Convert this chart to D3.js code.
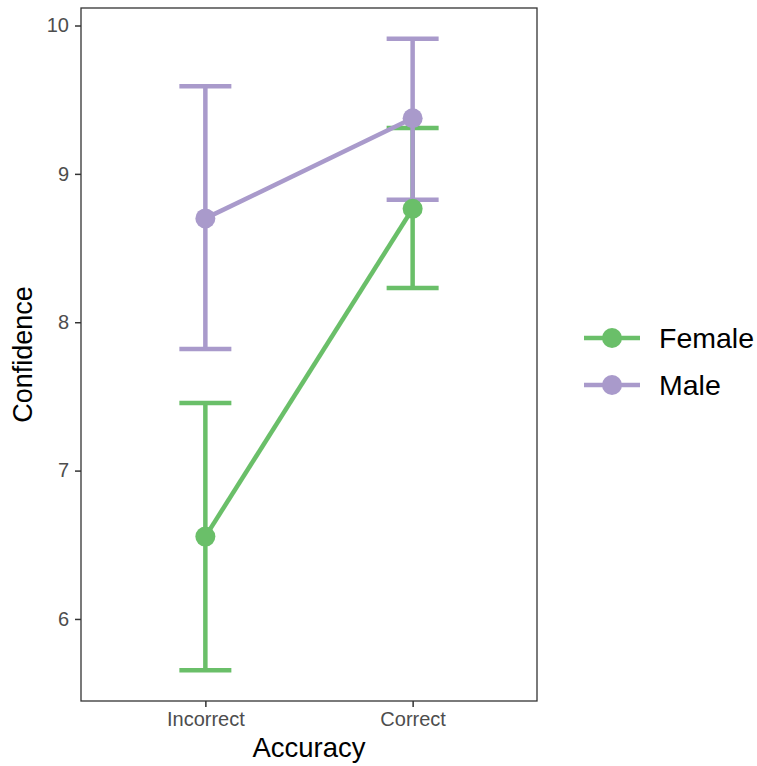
<!DOCTYPE html>
<html>
<head>
<meta charset="utf-8">
<script src="https://cdn.jsdelivr.net/npm/d3@7"></script>
<style>
  body { margin: 0; background: #fff; }
  svg { font-family: "Liberation Sans", Arial, sans-serif; }
</style>
</head>
<body>
<div id="chart"></div>
<script>
// data
var categories = ["Incorrect", "Correct"];
var groups = ["Female", "Male"];
var colors = ["#6abf69", "#a99acb"];
var femaleMean = [6.555, 8.765];
var femaleLow = [5.655, 8.23];
var femaleHigh = [7.455, 9.31];
var maleMean = [8.70, 9.375];
var maleLow = [7.82, 8.825];
var maleHigh = [9.59, 9.91];
var yTicks = [6, 7, 8, 9, 10];

var series = [
    {name: groups[0], color: colors[0], mean: femaleMean, low: femaleLow, high: femaleHigh},
    {name: groups[1], color: colors[1], mean: maleMean, low: maleLow, high: maleHigh}
];

var width = 757, height = 766;
var margin = {top: 8, right: 220, bottom: 65, left: 81};
var pw = width - margin.left - margin.right;   // 456
var ph = height - margin.top - margin.bottom;  // 693

var svg = d3.select("#chart").append("svg")
    .attr("width", width)
    .attr("height", height);

var g = svg.append("g")
    .attr("transform", "translate(" + margin.left + "," + margin.top + ")");

// discrete x like ggplot: expand 0.6 each side
var x = d3.scaleLinear().domain([0.4, 2.6]).range([0, pw]);
var xc = function(c) { return x(categories.indexOf(c) + 1); };

var y = d3.scaleLinear().domain([5.447, 10.118]).range([ph, 0]);

// axes
var yAxis = g.append("g")
    .call(d3.axisLeft(y).tickValues(yTicks).tickSize(6).tickPadding(6).tickFormat(d3.format("d")));
yAxis.select(".domain").remove();
yAxis.selectAll("line").attr("stroke", "#333").attr("stroke-width", 1.5);
yAxis.selectAll("text").attr("fill", "#4d4d4d").style("font-size", "20px");

var xAxis = g.append("g")
    .attr("transform", "translate(0," + ph + ")")
    .call(d3.axisBottom(x).tickValues([1, 2]).tickSize(6).tickPadding(5)
        .tickFormat(function(d) { return categories[d - 1]; }));
xAxis.select(".domain").remove();
xAxis.selectAll("line").attr("stroke", "#333").attr("stroke-width", 1.5);
xAxis.selectAll("text").attr("fill", "#4d4d4d").style("font-size", "20px");

// panel border
g.append("rect")
    .attr("width", pw).attr("height", ph)
    .attr("fill", "none").attr("stroke", "#333").attr("stroke-width", 1.3);

// error bars
var capHalf = 26;
series.forEach(function(s) {
    var eb = g.append("g").attr("stroke", s.color).attr("stroke-width", 4.5).attr("fill", "none");
    categories.forEach(function(c, i) {
        var cx = xc(c);
        eb.append("line").attr("x1", cx).attr("x2", cx).attr("y1", y(s.low[i])).attr("y2", y(s.high[i]));
        eb.append("line").attr("x1", cx - capHalf).attr("x2", cx + capHalf).attr("y1", y(s.low[i])).attr("y2", y(s.low[i]));
        eb.append("line").attr("x1", cx - capHalf).attr("x2", cx + capHalf).attr("y1", y(s.high[i])).attr("y2", y(s.high[i]));
    });
});

// lines
var line = d3.line()
    .x(function(d, i) { return xc(categories[i]); })
    .y(function(d) { return y(d); });

series.forEach(function(s) {
    g.append("path")
        .datum(s.mean)
        .attr("d", line)
        .attr("fill", "none")
        .attr("stroke", s.color)
        .attr("stroke-width", 4.5);
});

// points
series.forEach(function(s) {
    g.selectAll(null)
        .data(s.mean)
        .enter().append("circle")
        .attr("cx", function(d, i) { return xc(categories[i]); })
        .attr("cy", function(d) { return y(d); })
        .attr("r", 10)
        .attr("fill", s.color);
});

// axis titles
svg.append("text")
    .attr("x", 309)
    .attr("y", 757)
    .attr("text-anchor", "middle")
    .style("font-size", "27.5px")
    .attr("fill", "#000")
    .text("Accuracy");

svg.append("text")
    .attr("transform", "translate(32," + (margin.top + ph / 2) + ") rotate(-90)")
    .attr("text-anchor", "middle")
    .style("font-size", "27px")
    .attr("fill", "#000")
    .text("Confidence");

// legend
var legend = svg.append("g");
series.forEach(function(s, i) {
    var ly = 338 + i * 47;
    legend.append("line")
        .attr("x1", 584).attr("x2", 640).attr("y1", ly).attr("y2", ly)
        .attr("stroke", s.color).attr("stroke-width", 4.5);
    legend.append("circle")
        .attr("cx", 612).attr("cy", ly).attr("r", 10).attr("fill", s.color);
    legend.append("text")
        .attr("x", 659).attr("y", ly + 10)
        .style("font-size", "28.5px")
        .attr("fill", "#000")
        .text(s.name);
});
</script>
</body>
</html>
